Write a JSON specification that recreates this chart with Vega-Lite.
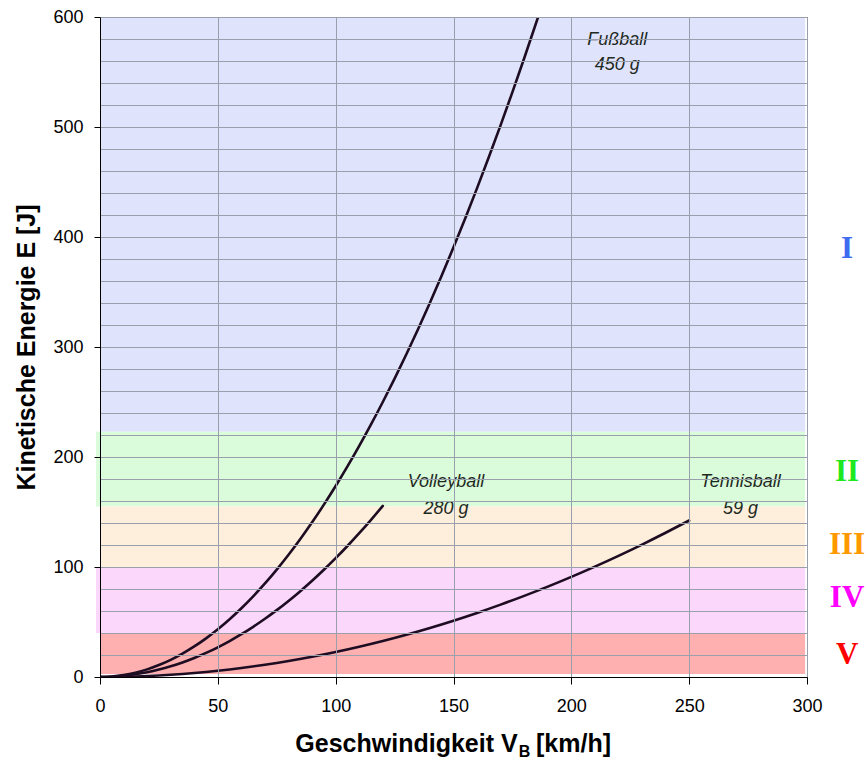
{
  "$schema": "https://vega.github.io/schema/vega-lite/v6.json",
  "width": 707,
  "height": 660,
  "autosize": {"type": "none"},
  "padding": {"left": 100, "top": 17, "right": 60, "bottom": 88},
  "background": "white",
  "config": {
    "view": {"stroke": "#3a3a3a", "strokeWidth": 1},
    "font": "Liberation Sans"
  },
  "datasets": {
    "bands": [
      {"zone": "I", "e_lo": 223, "e_hi": 600, "v_lo": 0, "v_hi": 299.2},
      {"zone": "II", "e_lo": 155, "e_hi": 223, "v_lo": -1.7, "v_hi": 299.2},
      {"zone": "III", "e_lo": 100, "e_hi": 155, "v_lo": 0, "v_hi": 299.2},
      {"zone": "IV", "e_lo": 40, "e_hi": 100, "v_lo": -1.7, "v_hi": 299.2},
      {"zone": "V", "e_lo": 2.7, "e_hi": 40, "v_lo": 0, "v_hi": 299.2}
    ],
    "curves": [
      {"ball": "Fußball", "v": 0, "E": 0},
      {"ball": "Fußball", "v": 5, "E": 0.434},
      {"ball": "Fußball", "v": 10, "E": 1.736},
      {"ball": "Fußball", "v": 15, "E": 3.906},
      {"ball": "Fußball", "v": 20, "E": 6.944},
      {"ball": "Fußball", "v": 25, "E": 10.851},
      {"ball": "Fußball", "v": 30, "E": 15.625},
      {"ball": "Fußball", "v": 35, "E": 21.267},
      {"ball": "Fußball", "v": 40, "E": 27.778},
      {"ball": "Fußball", "v": 45, "E": 35.156},
      {"ball": "Fußball", "v": 50, "E": 43.403},
      {"ball": "Fußball", "v": 55, "E": 52.517},
      {"ball": "Fußball", "v": 60, "E": 62.5},
      {"ball": "Fußball", "v": 65, "E": 73.351},
      {"ball": "Fußball", "v": 70, "E": 85.069},
      {"ball": "Fußball", "v": 75, "E": 97.656},
      {"ball": "Fußball", "v": 80, "E": 111.111},
      {"ball": "Fußball", "v": 85, "E": 125.434},
      {"ball": "Fußball", "v": 90, "E": 140.625},
      {"ball": "Fußball", "v": 95, "E": 156.684},
      {"ball": "Fußball", "v": 100, "E": 173.611},
      {"ball": "Fußball", "v": 105, "E": 191.406},
      {"ball": "Fußball", "v": 110, "E": 210.069},
      {"ball": "Fußball", "v": 115, "E": 229.601},
      {"ball": "Fußball", "v": 120, "E": 250},
      {"ball": "Fußball", "v": 125, "E": 271.267},
      {"ball": "Fußball", "v": 130, "E": 293.403},
      {"ball": "Fußball", "v": 135, "E": 316.406},
      {"ball": "Fußball", "v": 140, "E": 340.278},
      {"ball": "Fußball", "v": 145, "E": 365.017},
      {"ball": "Fußball", "v": 150, "E": 390.625},
      {"ball": "Fußball", "v": 155, "E": 417.101},
      {"ball": "Fußball", "v": 160, "E": 444.444},
      {"ball": "Fußball", "v": 165, "E": 472.656},
      {"ball": "Fußball", "v": 170, "E": 501.736},
      {"ball": "Fußball", "v": 175, "E": 531.684},
      {"ball": "Fußball", "v": 180, "E": 562.5},
      {"ball": "Fußball", "v": 185.9, "E": 600},
      {"ball": "Volleyball", "v": 0, "E": 0},
      {"ball": "Volleyball", "v": 5, "E": 0.27},
      {"ball": "Volleyball", "v": 10, "E": 1.08},
      {"ball": "Volleyball", "v": 15, "E": 2.431},
      {"ball": "Volleyball", "v": 20, "E": 4.321},
      {"ball": "Volleyball", "v": 25, "E": 6.752},
      {"ball": "Volleyball", "v": 30, "E": 9.722},
      {"ball": "Volleyball", "v": 35, "E": 13.233},
      {"ball": "Volleyball", "v": 40, "E": 17.284},
      {"ball": "Volleyball", "v": 45, "E": 21.875},
      {"ball": "Volleyball", "v": 50, "E": 27.006},
      {"ball": "Volleyball", "v": 55, "E": 32.677},
      {"ball": "Volleyball", "v": 60, "E": 38.889},
      {"ball": "Volleyball", "v": 65, "E": 45.641},
      {"ball": "Volleyball", "v": 70, "E": 52.932},
      {"ball": "Volleyball", "v": 75, "E": 60.764},
      {"ball": "Volleyball", "v": 80, "E": 69.136},
      {"ball": "Volleyball", "v": 85, "E": 78.048},
      {"ball": "Volleyball", "v": 90, "E": 87.5},
      {"ball": "Volleyball", "v": 95, "E": 97.492},
      {"ball": "Volleyball", "v": 100, "E": 108.025},
      {"ball": "Volleyball", "v": 105, "E": 119.097},
      {"ball": "Volleyball", "v": 110, "E": 130.71},
      {"ball": "Volleyball", "v": 115, "E": 142.863},
      {"ball": "Volleyball", "v": 120, "E": 155.556},
      {"ball": "Tennisball", "v": 0, "E": 0},
      {"ball": "Tennisball", "v": 10, "E": 0.228},
      {"ball": "Tennisball", "v": 20, "E": 0.91},
      {"ball": "Tennisball", "v": 30, "E": 2.049},
      {"ball": "Tennisball", "v": 40, "E": 3.642},
      {"ball": "Tennisball", "v": 50, "E": 5.691},
      {"ball": "Tennisball", "v": 60, "E": 8.194},
      {"ball": "Tennisball", "v": 70, "E": 11.154},
      {"ball": "Tennisball", "v": 80, "E": 14.568},
      {"ball": "Tennisball", "v": 90, "E": 18.437},
      {"ball": "Tennisball", "v": 100, "E": 22.762},
      {"ball": "Tennisball", "v": 110, "E": 27.542},
      {"ball": "Tennisball", "v": 120, "E": 32.778},
      {"ball": "Tennisball", "v": 130, "E": 38.468},
      {"ball": "Tennisball", "v": 140, "E": 44.614},
      {"ball": "Tennisball", "v": 150, "E": 51.215},
      {"ball": "Tennisball", "v": 160, "E": 58.271},
      {"ball": "Tennisball", "v": 170, "E": 65.783},
      {"ball": "Tennisball", "v": 180, "E": 73.75},
      {"ball": "Tennisball", "v": 190, "E": 82.172},
      {"ball": "Tennisball", "v": 200, "E": 91.049},
      {"ball": "Tennisball", "v": 210, "E": 100.382},
      {"ball": "Tennisball", "v": 220, "E": 110.17},
      {"ball": "Tennisball", "v": 230, "E": 120.413},
      {"ball": "Tennisball", "v": 240, "E": 131.111},
      {"ball": "Tennisball", "v": 250, "E": 142.265}
    ],
    "ballLabels": [
      {"text": "Fußball", "v": 219.5, "E": 579},
      {"text": "450 g", "v": 219.5, "E": 556},
      {"text": "Volleyball", "v": 146.8, "E": 177.5},
      {"text": "280 g", "v": 146.8, "E": 153},
      {"text": "Tennisball", "v": 271.8, "E": 177.5},
      {"text": "59 g", "v": 271.8, "E": 153}
    ],
    "zoneLabels": [
      {"zone": "I", "v": 317, "E": 389},
      {"zone": "II", "v": 317, "E": 186.4},
      {"zone": "III", "v": 317, "E": 120},
      {"zone": "IV", "v": 317, "E": 71.8},
      {"zone": "V", "v": 317, "E": 20}
    ],
    "xTitleMain": [
      {"text": "Geschwindigkeit V", "v": 177.2, "E": -68.2}
    ],
    "xTitleSub": [
      {"text": "B", "v": 177.7, "E": -72.5}
    ],
    "xTitleUnit": [
      {"text": "[km/h]", "v": 185.0, "E": -68.2}
    ]
  },
  "layer": [
    {
      "data": {"name": "bands"},
      "mark": {"type": "rect", "clip": false},
      "encoding": {
        "x": {
          "field": "v_lo",
          "type": "quantitative",
          "scale": {"domain": [0, 300], "nice": false, "zero": false},
          "axis": {
            "values": [0, 50, 100, 150, 200, 250, 300],
            "tickCount": 20,
            "title": null,
            "grid": true,
            "zindex": 1,
            "labelFlush": false,
            "domainColor": "#000000",
            "domainWidth": 1,
            "tickColor": "#000000",
            "tickSize": 7,
            "labelFontSize": 18,
            "labelColor": "#000000",
            "labelPadding": 13,
            "labelFont": "Liberation Sans",
            "gridColor": "#9aa0ab",
            "gridWidth": 1,
            "gridOpacity": 1
          }
        },
        "x2": {"field": "v_hi"},
        "y": {
          "field": "e_lo",
          "type": "quantitative",
          "scale": {"domain": [0, 600], "nice": false, "zero": false},
          "axis": {
            "values": [0, 20, 40, 60, 80, 100, 120, 140, 160, 180, 200, 220, 240, 260, 280, 300, 320, 340, 360, 380, 400, 420, 440, 460, 480, 500, 520, 540, 560, 580, 600],
            "tickCount": 60,
            "labelOverlap": false,
            "labelFlush": false,
            "labelExpr": "datum.value % 100 === 0 ? datum.label : ''",
            "tickOpacity": {"condition": {"test": "datum.value % 100 === 0", "value": 1}, "value": 0},
            "title": "Kinetische Energie E [J]",
            "grid": true,
            "titleFontSize": 25,
            "titleFontWeight": "bold",
            "titleFont": "Liberation Sans",
            "titleColor": "#000000",
            "titlePadding": 13,
            "zindex": 1,
            "domainColor": "#000000",
            "domainWidth": 1,
            "tickColor": "#000000",
            "tickSize": 6,
            "labelFontSize": 18,
            "labelColor": "#000000",
            "labelPadding": 11,
            "labelFont": "Liberation Sans",
            "gridColor": "#9aa0ab",
            "gridWidth": 1,
            "gridOpacity": 1
          }
        },
        "y2": {"field": "e_hi"},
        "color": {
          "field": "zone",
          "type": "nominal",
          "scale": {
            "domain": ["I", "II", "III", "IV", "V"],
            "range": ["#dfe4fc", "#dafcda", "#fdefdc", "#fcd7fc", "#feb0b0"]
          },
          "legend": null
        }
      }
    },
    {
      "data": {"name": "curves"},
      "mark": {"type": "line", "color": "#1e0c22", "strokeWidth": 2.6, "strokeCap": "round", "strokeJoin": "round", "clip": true, "interpolate": "monotone"},
      "encoding": {
        "x": {"field": "v", "type": "quantitative"},
        "y": {"field": "E", "type": "quantitative"},
        "detail": {"field": "ball", "type": "nominal"}
      }
    },
    {
      "data": {"name": "ballLabels"},
      "mark": {"type": "text", "font": "Liberation Sans", "fontSize": 18, "fontStyle": "italic", "color": "#1f2a1f", "align": "center", "baseline": "middle"},
      "encoding": {
        "x": {"field": "v", "type": "quantitative"},
        "y": {"field": "E", "type": "quantitative"},
        "text": {"field": "text"}
      }
    },
    {
      "data": {"name": "zoneLabels"},
      "mark": {"type": "text", "font": "Liberation Serif", "fontSize": 31, "fontWeight": "bold", "align": "center", "baseline": "middle"},
      "encoding": {
        "x": {"field": "v", "type": "quantitative"},
        "y": {"field": "E", "type": "quantitative"},
        "text": {"field": "zone"},
        "color": {
          "field": "zone",
          "type": "nominal",
          "scale": {
            "domain": ["I", "II", "III", "IV", "V"],
            "range": ["#3d6cf0", "#1ee81e", "#ff9900", "#ff00ff", "#ff0000"]
          },
          "legend": null
        }
      }
    },
    {
      "data": {"name": "xTitleMain"},
      "mark": {"type": "text", "font": "Liberation Sans", "fontSize": 25, "fontWeight": "bold", "color": "#000000", "align": "right", "baseline": "alphabetic"},
      "encoding": {
        "x": {"field": "v", "type": "quantitative"},
        "y": {"field": "E", "type": "quantitative"},
        "text": {"field": "text"}
      }
    },
    {
      "data": {"name": "xTitleSub"},
      "mark": {"type": "text", "font": "Liberation Sans", "fontSize": 16, "fontWeight": "bold", "color": "#000000", "align": "left", "baseline": "alphabetic"},
      "encoding": {
        "x": {"field": "v", "type": "quantitative"},
        "y": {"field": "E", "type": "quantitative"},
        "text": {"field": "text"}
      }
    },
    {
      "data": {"name": "xTitleUnit"},
      "mark": {"type": "text", "font": "Liberation Sans", "fontSize": 25, "fontWeight": "bold", "color": "#000000", "align": "left", "baseline": "alphabetic"},
      "encoding": {
        "x": {"field": "v", "type": "quantitative"},
        "y": {"field": "E", "type": "quantitative"},
        "text": {"field": "text"}
      }
    }
  ],
  "resolve": {"scale": {"color": "independent"}}
}
